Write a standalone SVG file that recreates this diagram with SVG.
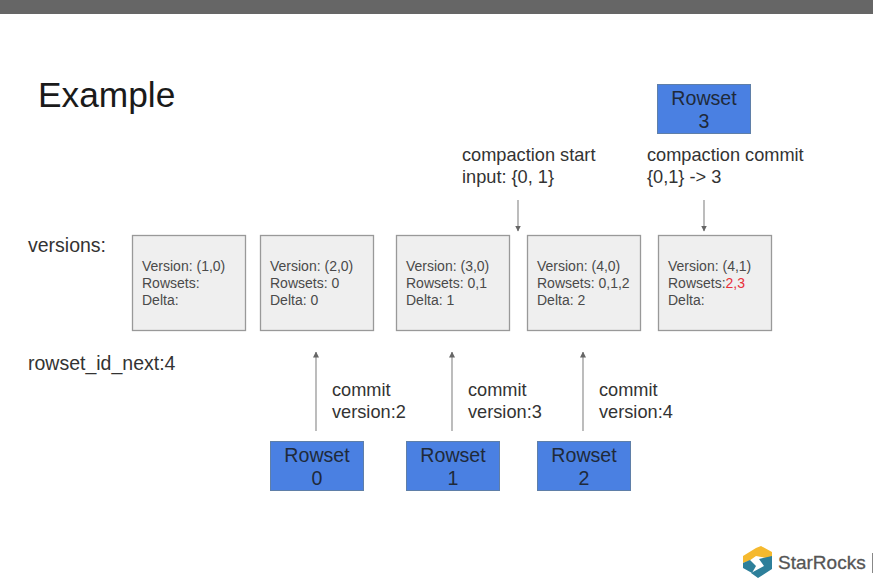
<svg xmlns="http://www.w3.org/2000/svg" width="873" height="583" viewBox="0 0 873 583">
<style>
text{font-family:"Liberation Sans",Arial,sans-serif;fill:#333}
.label{font-size:18.2px}
.side{font-size:19.5px}
.ver rect{fill:#efefef;stroke:#999;stroke-width:1.3}
.ver text{font-size:14px;fill:#4a4a4a}
.rs rect{fill:#4a80e2;stroke:#5f7fa8;stroke-width:1}
.rs text{font-size:19.6px;text-anchor:middle;fill:#1f2a3a}
.conn line{stroke:#999;stroke-width:1.3;marker-end:url(#tip)}
</style>
<defs>
<marker id="tip" viewBox="0 0 6 8" refX="5.500" refY="4" markerUnits="userSpaceOnUse" markerWidth="6" markerHeight="8" orient="auto"><path d="M0 1 L6 4 L0 7Z" fill="#666"/></marker>
</defs>
<rect width="873" height="583" fill="#fff"/>
<rect width="873" height="14" fill="#666"/>
<text x="38" y="107" font-size="35.3" style="fill:#1a1a1a">Example</text>
<text class="side" x="28" y="252">versions:</text>
<text class="side" x="28" y="370">rowset_id_next:4</text>
<g id="v1" class="ver"><rect x="132.500" y="235.500" width="113" height="95"/><text x="142" y="271">Version: (1,0)</text><text x="142" y="288">Rowsets:</text><text x="142" y="305">Delta:</text></g>
<g id="v2" class="ver"><rect x="260.500" y="235.500" width="113" height="95"/><text x="270" y="271">Version: (2,0)</text><text x="270" y="288">Rowsets: 0</text><text x="270" y="305">Delta: 0</text></g>
<g id="v3" class="ver"><rect x="396.500" y="235.500" width="113" height="95"/><text x="406" y="271">Version: (3,0)</text><text x="406" y="288">Rowsets: 0,1</text><text x="406" y="305">Delta: 1</text></g>
<g id="v4" class="ver"><rect x="527.500" y="235.500" width="113" height="95"/><text x="537" y="271">Version: (4,0)</text><text x="537" y="288">Rowsets: 0,1,2</text><text x="537" y="305">Delta: 2</text></g>
<g id="v5" class="ver"><rect x="658.500" y="235.500" width="113" height="95"/><text x="668" y="271">Version: (4,1)</text><text x="668" y="288">Rowsets:<tspan style="fill:#e8303a">2,3</tspan></text><text x="668" y="305">Delta:</text></g>
<g id="r0" class="rs"><rect x="270.500" y="441.500" width="93" height="49"/><text x="317" y="462">Rowset</text><text x="317" y="485">0</text></g>
<g id="r1" class="rs"><rect x="406.500" y="441.500" width="93" height="49"/><text x="453" y="462">Rowset</text><text x="453" y="485">1</text></g>
<g id="r2" class="rs"><rect x="537.500" y="441.500" width="93" height="49"/><text x="584" y="462">Rowset</text><text x="584" y="485">2</text></g>
<g id="r3" class="rs"><rect x="657.500" y="84.500" width="93" height="49"/><text x="704" y="105">Rowset</text><text x="704" y="128">3</text></g>
<g id="connectors" class="conn">
<line x1="316" y1="431" x2="316" y2="352"/>
<line x1="452" y1="431" x2="452" y2="352"/>
<line x1="583" y1="431" x2="583" y2="352"/>
<line x1="518" y1="200" x2="518" y2="231"/>
<line x1="704" y1="200" x2="704" y2="231"/>
</g>
<text class="label" x="462" y="161">compaction start</text>
<text class="label" x="462" y="183">input: {0, 1}</text>
<text class="label" x="647" y="161">compaction commit</text>
<text class="label" x="647" y="183">{0,1} -&gt; 3</text>
<text class="label" x="332" y="396">commit</text><text class="label" x="332" y="418">version:2</text>
<text class="label" x="468" y="396">commit</text><text class="label" x="468" y="418">version:3</text>
<text class="label" x="599" y="396">commit</text><text class="label" x="599" y="418">version:4</text>
<g id="logo">
<path d="M743 556 L756 548 L761 546 L772 552 L772 559 L756 556 L749 561 L743 563Z" fill="#f5b92e"/>
<path d="M743 563 L750 560 L756 566 L752 573 L743 568Z" fill="#2d7f9a"/>
<path d="M772 556 L772 569 L758 578 L751 573 L764 566 L759 559Z" fill="#2d7f9a"/>
<text x="778" y="569" font-size="19" style="fill:#555;stroke:#555;stroke-width:.3">StarRocks</text>
<rect x="872" y="553" width="1" height="20" fill="#888"/>
</g>
</svg>
